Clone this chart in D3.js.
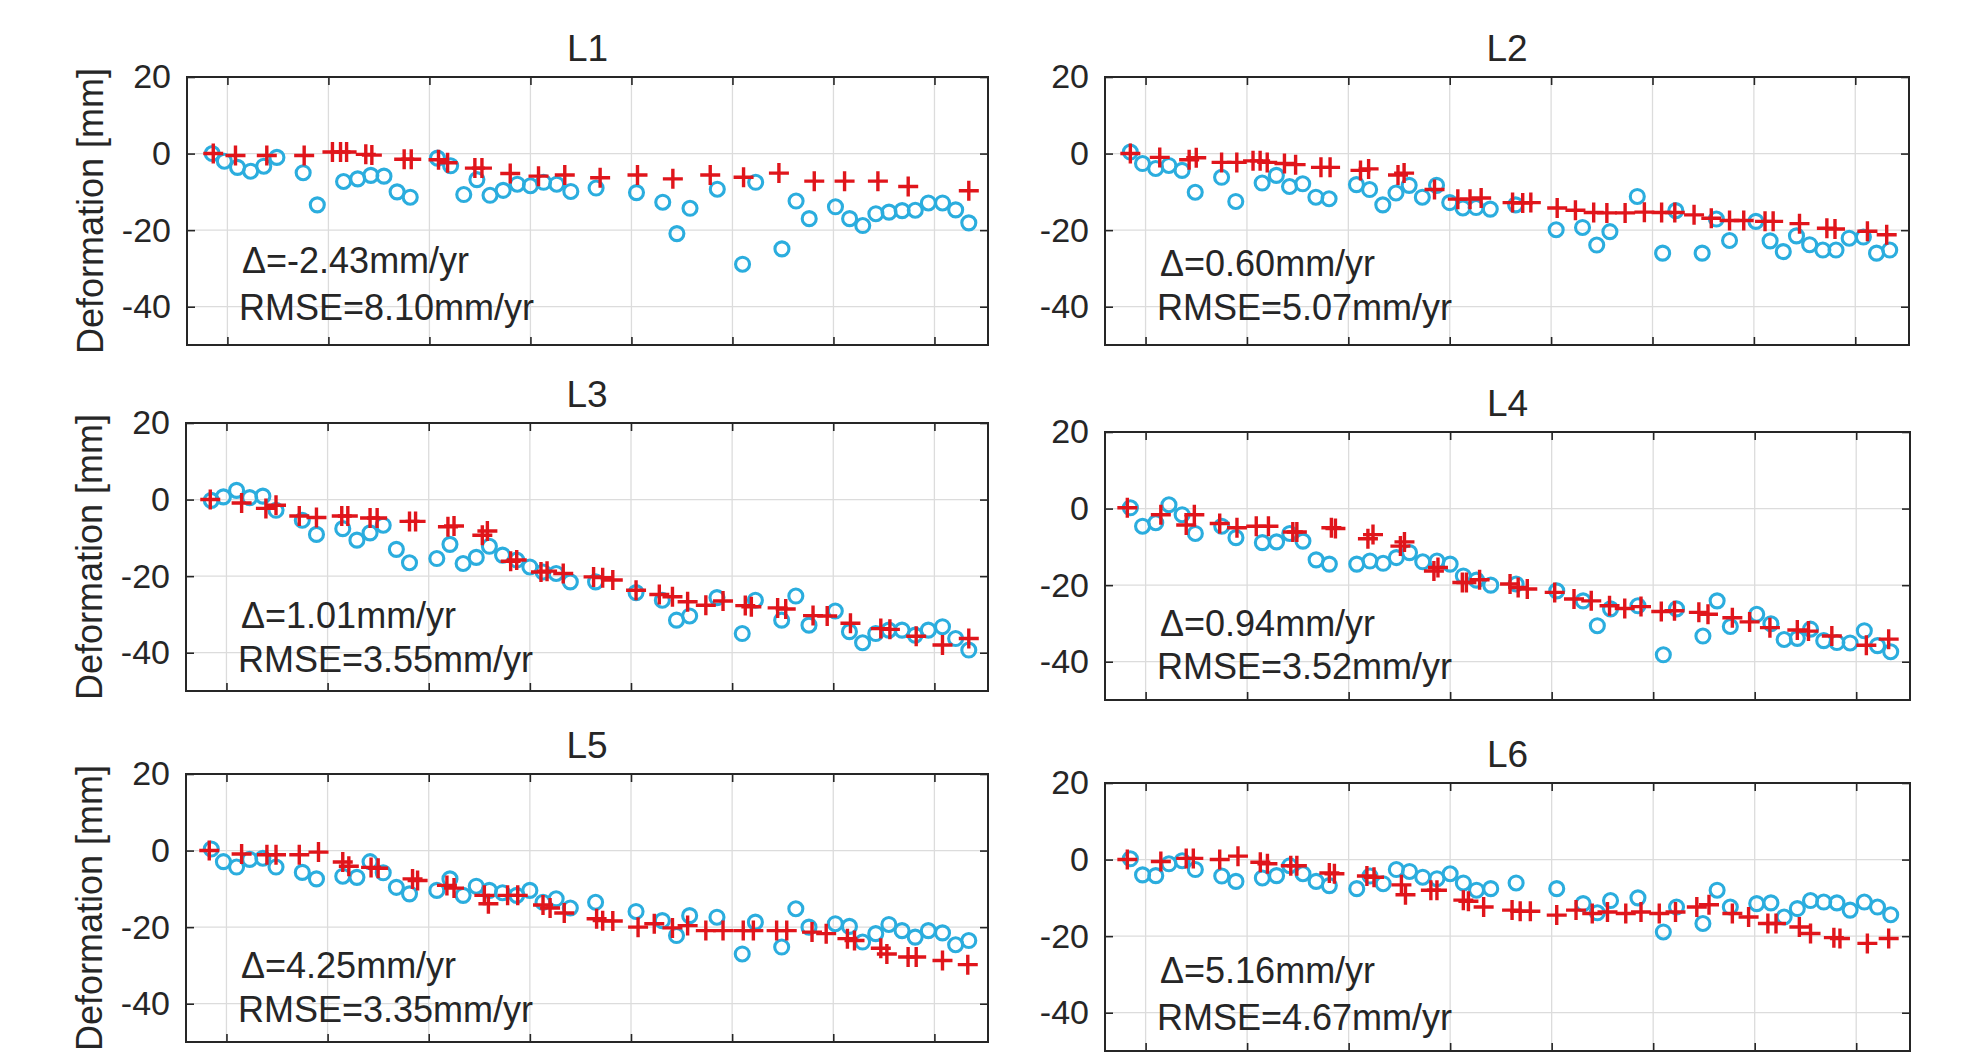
<!DOCTYPE html>
<html><head><meta charset="utf-8">
<script src="https://cdn.jsdelivr.net/npm/d3@7/dist/d3.min.js"></script>
<style>body{margin:0;background:#fff;overflow:hidden}</style>
</head><body>
<svg id="chart" width="1961" height="1052"></svg>
<script>
// ---------- DATA ----------
const titles = ["L1", "L2", "L3", "L4", "L5", "L6"];
const deltaLabels = ["Δ=-2.43mm/yr", "Δ=0.60mm/yr", "Δ=1.01mm/yr", "Δ=0.94mm/yr", "Δ=4.25mm/yr", "Δ=5.16mm/yr"];
const rmseLabels = ["RMSE=8.10mm/yr", "RMSE=5.07mm/yr", "RMSE=3.55mm/yr", "RMSE=3.52mm/yr", "RMSE=3.35mm/yr", "RMSE=4.67mm/yr"];
const yTickValues = [20, 0, -20, -40];
const xTickValues = [1, 2, 3, 4, 5, 6, 7, 8];
const yLabel = "Deformation [mm]";

// InSAR acquisition times (shared by all points), in tick-interval units
const insarT = [0.85,0.97,1.10,1.23,1.36,1.49,1.75,1.89,2.15,2.29,2.42,2.55,2.68,2.81,3.08,3.21,3.34,3.47,3.60,3.73,3.87,4.00,4.13,4.26,4.40,4.65,5.05,5.31,5.45,5.58,5.85,6.10,6.23,6.49,6.63,6.76,7.02,7.16,7.29,7.42,7.55,7.68,7.81,7.94,8.08,8.21,8.34];

const l1Insar = [0,-2,-3.6,-4.6,-3.3,-1,-5,-13.4,-7.3,-6.6,-5.7,-5.9,-10,-11.4,-1.2,-3.2,-10.7,-6.8,-10.9,-9.6,-8,-8.4,-7.5,-8,-9.9,-9,-10.2,-12.7,-20.9,-14.3,-9.3,-28.9,-7.5,-24.9,-12.4,-17,-13.9,-17,-18.8,-15.7,-15.3,-14.9,-14.8,-12.9,-12.9,-14.7,-18.1];
const l1LevT = [0.86,1.08,1.39,1.76,2.04,2.12,2.18,2.37,2.43,2.75,2.82,3.09,3.18,3.45,3.52,3.80,4.08,4.34,4.69,5.06,5.41,5.78,6.11,6.46,6.81,7.11,7.44,7.74,8.34];
const l1Lev = [0,-0.5,-0.5,-0.5,0.4,0.4,0.4,-0.2,-0.4,-1.5,-1.5,-1.6,-2.4,-3.8,-3.8,-5.2,-5.9,-5.6,-6.3,-5.6,-6.6,-5.6,-6.2,-5.1,-7.2,-7.2,-7.2,-8.6,-9.7];

const l2Insar = [0.4,-2.6,-3.9,-3.1,-4.4,-10.1,-6.2,-12.5,-7.7,-5.7,-8.6,-7.9,-11.4,-11.8,-8.1,-9.4,-13.4,-10.3,-8.3,-11.4,-8.3,-12.8,-14.2,-14.1,-14.5,-13.4,-19.9,-19.3,-23.9,-20.4,-11.2,-26,-14.9,-26,-17.1,-22.7,-17.7,-22.8,-25.6,-21.5,-23.8,-25.2,-25.2,-22.1,-21.8,-26,-25.2];
const l2LevT = [0.85,1.14,1.43,1.50,1.75,1.90,2.06,2.13,2.20,2.37,2.48,2.73,2.82,3.12,3.20,3.49,3.55,3.85,4.08,4.20,4.31,4.62,4.72,4.80,5.06,5.24,5.42,5.55,5.73,5.92,6.09,6.22,6.41,6.58,6.76,6.90,7.11,7.19,7.45,7.72,7.80,8.12,8.31];
const l2Lev = [0,-1,-1.6,-1.1,-2.3,-2.3,-1.9,-1.9,-2.3,-2.6,-2.9,-3.6,-3.6,-4.4,-4,-5.6,-5.1,-9.4,-11.9,-11.9,-11.6,-12.8,-12.9,-12.8,-14.2,-14.8,-15.4,-15.5,-15.5,-15.3,-15.4,-15.4,-16,-16.9,-17.5,-17.5,-17.7,-17.7,-18.3,-19.5,-19.7,-20.3,-21.2];

const l3Insar = [-0.2,0.7,2.4,0.5,0.9,-2.8,-5.4,-9.1,-7.6,-10.6,-8.7,-6.7,-13,-16.5,-15.4,-11.7,-16.7,-15.1,-12.2,-14.5,-15.8,-17.6,-18.9,-19.3,-21.5,-21.5,-24.3,-26.3,-31.5,-30.4,-25.6,-35,-26.3,-31.5,-25.2,-32.8,-29.1,-34.5,-37.4,-35,-34.1,-34.1,-35.4,-34.1,-33.2,-36.3,-39.3];
const l3LevT = [0.84,1.15,1.39,1.49,1.72,1.89,2.14,2.20,2.42,2.49,2.81,2.87,3.19,3.25,3.53,3.58,3.81,3.87,4.11,4.17,4.33,4.63,4.72,4.82,5.05,5.28,5.41,5.56,5.74,5.91,6.13,6.19,6.45,6.53,6.80,6.94,7.17,7.47,7.56,7.82,8.08,8.34];
const l3Lev = [0,-0.9,-2.3,-1.5,-4.3,-4.7,-4.3,-4.3,-4.8,-4.8,-5.7,-5.7,-7.1,-6.9,-9.3,-8.2,-16.1,-15.8,-18.9,-18.7,-19.3,-20.2,-20.4,-21,-23.7,-24.8,-25.4,-26.7,-27.6,-26.5,-27.7,-28,-28.3,-28.6,-30.3,-30.4,-32.3,-33.7,-33.9,-35.7,-38,-36.3];

const l4Insar = [0.2,-4.6,-3.7,1,-1.6,-6.5,-4.6,-7.6,-8.9,-8.7,-6.5,-8.5,-13.4,-14.5,-14.5,-13.7,-14.3,-12.8,-11.5,-13.9,-13.7,-14.5,-17.6,-18.7,-20,-19.7,-21.5,-24.1,-30.6,-26.2,-25.4,-38.2,-26.2,-33.3,-24.1,-30.8,-27.6,-30.1,-34.2,-33.9,-31.5,-34.5,-35,-35.1,-31.9,-35.8,-37.4];
const l4LevT = [0.82,1.15,1.40,1.48,1.73,1.90,2.09,2.21,2.45,2.49,2.83,2.87,3.19,3.24,3.51,3.55,3.84,3.88,4.12,4.16,4.29,4.59,4.67,4.76,5.03,5.22,5.39,5.57,5.72,5.88,6.08,6.21,6.45,6.54,6.78,6.95,7.15,7.42,7.53,7.76,8.10,8.32];
const l4Lev = [0.2,-1.6,-4.3,-1.6,-3.9,-5,-4.6,-4.6,-6.1,-6.1,-5,-5.2,-7.9,-6.8,-9.8,-8.7,-16.3,-15.4,-19.3,-19.3,-18.6,-19.7,-20.6,-21,-21.9,-23.6,-24.1,-25.4,-26.1,-25.6,-26.9,-26.7,-27.1,-27.6,-28.5,-29.6,-31.1,-31.7,-32,-33.3,-35.7,-34.1];

const l5Insar = [0.4,-2.9,-4.3,-2.3,-2,-4.3,-5.7,-7.4,-6.7,-7,-2.9,-5.8,-9.6,-11.3,-10.4,-7.4,-11.7,-9.3,-10.4,-11,-11.7,-10.4,-13.5,-12.6,-15,-13.5,-15.9,-18.3,-22.2,-17,-17.4,-27,-18.7,-25.2,-15.2,-20,-19.1,-19.8,-23.9,-21.7,-19.3,-20.9,-22.6,-20.9,-21.5,-24.6,-23.5];
const l5LevT = [0.83,1.15,1.40,1.49,1.72,1.91,2.15,2.21,2.43,2.50,2.84,2.89,3.18,3.25,3.55,3.59,3.78,3.88,4.13,4.20,4.34,4.66,4.72,4.82,5.07,5.23,5.41,5.56,5.74,5.91,6.11,6.21,6.44,6.54,6.79,6.93,7.14,7.21,7.47,7.53,7.74,7.82,8.08,8.33];
const l5Lev = [0,-0.9,-1.1,-1.1,-1.1,-0.4,-3,-4.1,-4.4,-4.6,-7.4,-7.8,-9.1,-9.8,-11.7,-13.9,-11.7,-11.7,-14.2,-15,-16.3,-17.8,-18.3,-18.4,-20,-19.1,-20.2,-19.6,-20.9,-20.9,-20.9,-20.9,-20.9,-20.9,-21.3,-21.7,-23,-23.5,-25.5,-27,-27.8,-27.8,-28.7,-29.8];

const l6Insar = [0.2,-4,-4.2,-1.1,-0.3,-2.6,-4.3,-5.7,-4.8,-4.2,-1.6,-3.7,-5.7,-6.8,-7.6,-4.3,-6.3,-2.6,-3.1,-4.6,-5,-3.7,-6.1,-8,-7.6,-6.1,-7.6,-11.5,-13.9,-10.7,-10,-18.9,-12.4,-16.7,-8,-12.4,-11.5,-11.3,-15,-12.8,-10.7,-11.1,-11.3,-13.2,-11.1,-12.4,-14.4];
const l6LevT = [0.82,1.15,1.40,1.47,1.73,1.91,2.13,2.20,2.43,2.49,2.81,2.86,3.18,3.25,3.52,3.56,3.81,3.87,4.13,4.18,4.33,4.61,4.69,4.79,5.05,5.24,5.40,5.55,5.73,5.88,6.06,6.22,6.43,6.55,6.78,6.94,7.13,7.21,7.44,7.55,7.78,7.84,8.11,8.32];
const l6Lev = [0,-0.5,0.3,0.3,0,0.9,-0.7,-1.1,-1.6,-1.6,-3.5,-3.7,-4.3,-4.6,-6.6,-9.2,-8,-8,-10.6,-10.9,-12.4,-13.2,-13.5,-13.5,-14.5,-13.2,-14.1,-13.7,-14.1,-13.7,-14.1,-13.7,-12.4,-11.8,-14.1,-15,-16.7,-16.7,-17.6,-19.3,-20.4,-20.6,-21.9,-20.6];

const insarSeries = [l1Insar, l2Insar, l3Insar, l4Insar, l5Insar, l6Insar];
const levTSeries = [l1LevT, l2LevT, l3LevT, l4LevT, l5LevT, l6LevT];
const levSeries = [l1Lev, l2Lev, l3Lev, l4Lev, l5Lev, l6Lev];

// ---------- LAYOUT / STYLE ----------
const boxes = [
  {x0: 187, x1: 988, y0: 77, dy1: 196, dy2: 243},
  {x0: 1105, x1: 1909, y0: 77, dy1: 199, dy2: 243},
  {x0: 186, x1: 988, y0: 423, dy1: 205, dy2: 249},
  {x0: 1105, x1: 1910, y0: 432, dy1: 204, dy2: 247},
  {x0: 186, x1: 988, y0: 774, dy1: 204, dy2: 248},
  {x0: 1105, x1: 1910, y0: 783, dy1: 200, dy2: 247}
];
const boxH = 268;
const FONT = "'Liberation Sans', Arial, Helvetica, sans-serif";
const INK = "#262626";
const RED = "#e0151b";
const CYAN = "#2badde";

const svg = d3.select("#chart");
svg.append("rect").attr("width", 1961).attr("height", 1052).attr("fill", "#fff");

titles.forEach((title, i) => {
  const b = boxes[i];
  const x = d3.scaleLinear().domain([0.6, 8.53]).range([b.x0, b.x1]);
  const y = d3.scaleLinear().domain([-50, 20]).range([b.y0 + boxH, b.y0]);
  const g = svg.append("g");

  // grid
  g.append("g").selectAll("line").data(xTickValues).join("line")
    .attr("x1", d => x(d)).attr("x2", d => x(d))
    .attr("y1", b.y0).attr("y2", b.y0 + boxH)
    .attr("stroke", "#dcdcdc").attr("stroke-width", 1.3);
  g.append("g").selectAll("line").data(yTickValues).join("line")
    .attr("x1", b.x0).attr("x2", b.x1)
    .attr("y1", d => y(d)).attr("y2", d => y(d))
    .attr("stroke", "#dcdcdc").attr("stroke-width", 1.3);

  // axes (inward ticks) using d3 axes
  const tl = 8;
  const axL = d3.axisLeft(y).tickValues(yTickValues).tickSize(-tl).tickPadding(16).tickFormat(d3.format("d"));
  const axR = d3.axisRight(y).tickValues(yTickValues).tickSize(-tl).tickFormat("");
  const axB = d3.axisBottom(x).tickValues(xTickValues).tickSize(-tl).tickFormat("");
  const axT = d3.axisTop(x).tickValues(xTickValues).tickSize(-tl).tickFormat("");
  const gl = g.append("g").attr("transform", `translate(${b.x0},0)`).call(axL);
  g.append("g").attr("transform", `translate(${b.x1},0)`).call(axR);
  g.append("g").attr("transform", `translate(0,${b.y0 + boxH})`).call(axB);
  g.append("g").attr("transform", `translate(0,${b.y0})`).call(axT);
  g.selectAll(".domain").remove();
  g.selectAll(".tick line").attr("stroke", INK).attr("stroke-width", 1.6);
  gl.selectAll("text").attr("font-family", FONT).attr("font-size", 34).attr("fill", INK)
    .text(d => d < 0 ? "-" + Math.abs(d) : d);

  // box
  g.append("rect").attr("x", b.x0).attr("y", b.y0)
    .attr("width", b.x1 - b.x0).attr("height", boxH)
    .attr("fill", "none").attr("stroke", INK).attr("stroke-width", 2);

  // InSAR circles
  g.append("g").selectAll("circle").data(insarSeries[i]).join("circle")
    .attr("cx", (d, k) => x(insarT[k])).attr("cy", d => y(d)).attr("r", 7)
    .attr("fill", "none").attr("stroke", CYAN).attr("stroke-width", 3.1);

  // leveling pluses
  const lt = levTSeries[i];
  g.append("g").selectAll("path").data(levSeries[i]).join("path")
    .attr("transform", (d, k) => `translate(${x(lt[k])},${y(d)})`)
    .attr("d", "M-10,0H10M0,-10V10")
    .attr("stroke", RED).attr("stroke-width", 3.4).attr("fill", "none");

  // title
  g.append("text").attr("x", (b.x0 + b.x1) / 2).attr("y", b.y0 - 16)
    .attr("text-anchor", "middle").attr("font-family", FONT).attr("font-size", 37)
    .attr("fill", INK).text(title);

  // annotations
  g.append("text").attr("x", b.x0 + 55).attr("y", b.y0 + b.dy1)
    .attr("font-family", FONT).attr("font-size", 36).attr("fill", INK).text(deltaLabels[i]);
  g.append("text").attr("x", b.x0 + 52).attr("y", b.y0 + b.dy2)
    .attr("font-family", FONT).attr("font-size", 36).attr("fill", INK).text(rmseLabels[i]);

  // y label (left column only)
  if (i % 2 === 0) {
    g.append("text")
      .attr("transform", `translate(${b.x0 - 84},${b.y0 + boxH / 2}) rotate(-90)`)
      .attr("text-anchor", "middle")
      .attr("font-family", FONT).attr("font-size", 36).attr("fill", INK).text(yLabel);
  }
});
</script>
</body></html>
